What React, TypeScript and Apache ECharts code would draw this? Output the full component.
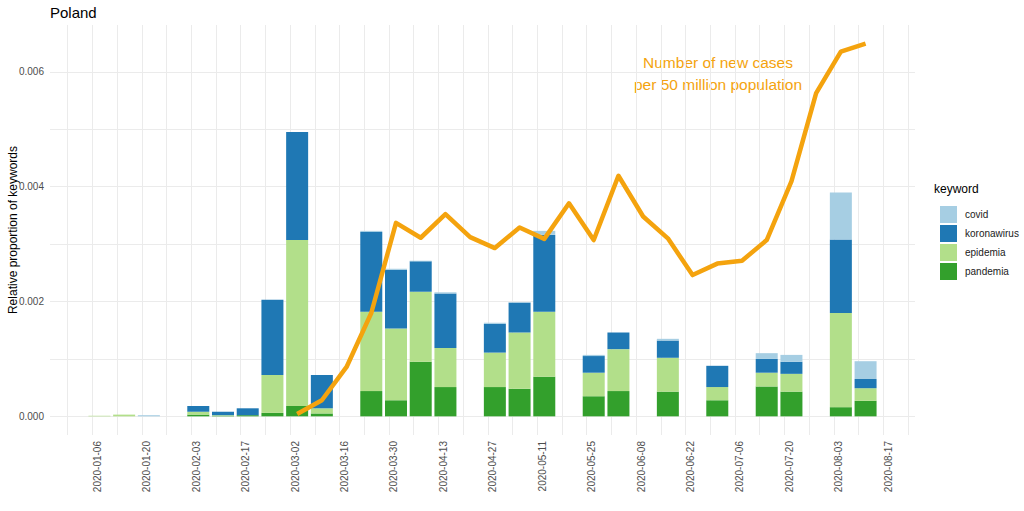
import React, { useEffect, useRef } from "react";
import * as echarts from "echarts";

// Week start dates (Mondays)
const weeks: string[] = [
  "2020-01-06", "2020-01-13", "2020-01-20", "2020-01-27", "2020-02-03", "2020-02-10",
  "2020-02-17", "2020-02-24", "2020-03-02", "2020-03-09", "2020-03-16", "2020-03-23",
  "2020-03-30", "2020-04-06", "2020-04-13", "2020-04-20", "2020-04-27", "2020-05-04",
  "2020-05-11", "2020-05-18", "2020-05-25", "2020-06-01", "2020-06-08", "2020-06-15",
  "2020-06-22", "2020-06-29", "2020-07-06", "2020-07-13", "2020-07-20", "2020-07-27",
  "2020-08-03", "2020-08-10",
];

const pandemia: number[] = [
  0, 0, 0, 0, 0.00003, 0.00001, 0.00002, 0.00006, 0.00018, 0.00005, 0, 0.00044,
  0.00028, 0.00095, 0.00051, 0, 0.00051, 0.00048, 0.00069, 0, 0.00035, 0.00044,
  0, 0.00043, 0, 0.00028, 0, 0.00052, 0.00043, 0, 0.00016, 0.00027,
];
const epidemia: number[] = [
  0.00001, 0.00003, 0, 0, 0.00005, 0.00001, 0, 0.00066, 0.00289, 0.00009, 0, 0.00138,
  0.00125, 0.00122, 0.00068, 0, 0.0006, 0.00098, 0.00113, 0, 0.00041, 0.00073,
  0, 0.00059, 0, 0.00023, 0, 0.00024, 0.00031, 0, 0.00164, 0.00022,
];
const koronawirus: number[] = [
  0, 0, 0, 0, 0.0001, 0.00006, 0.00012, 0.00131, 0.00188, 0.00058, 0, 0.00139,
  0.00102, 0.00053, 0.00095, 0, 0.0005, 0.00052, 0.00134, 0, 0.00029, 0.00029,
  0, 0.0003, 0, 0.00037, 0, 0.00024, 0.00021, 0, 0.00128, 0.00016,
];
const covid: number[] = [
  0, 0, 0.00002, 0, 0, 0, 0, 0, 0, 0, 0, 0.00002,
  0.00002, 0.00001, 0.00002, 0, 0.00002, 0.00001, 0.00007, 0, 0.00002, 0,
  0, 0.00003, 0, 0, 0, 0.0001, 0.00012, 0, 0.00082, 0.00031,
];

// New cases per 50 million population (scaled), from week 2020-03-02
const caseWeeks: string[] = weeks.slice(8);
const cases: number[] = [
  0.00004, 0.00028, 0.00086, 0.0018, 0.00337, 0.00311, 0.00352, 0.00312,
  0.00293, 0.00329, 0.00309, 0.00371, 0.00307, 0.00419, 0.00348, 0.0031,
  0.00246, 0.00266, 0.00271, 0.00307, 0.00409, 0.00563, 0.00635, 0.00649,
];

const xTickLabels: string[] = [
  "2020-01-06", "2020-01-20", "2020-02-03", "2020-02-17", "2020-03-02", "2020-03-16",
  "2020-03-30", "2020-04-13", "2020-04-27", "2020-05-11", "2020-05-25", "2020-06-08",
  "2020-06-22", "2020-07-06", "2020-07-20", "2020-08-03", "2020-08-17",
];
const yTickLabels: number[] = [0, 0.002, 0.004, 0.006];

const keywords = ["covid", "koronawirus", "epidemia", "pandemia"];
const colors: Record<string, string> = {
  covid: "#A6CEE3",
  koronawirus: "#1F78B4",
  epidemia: "#B2DF8A",
  pandemia: "#33A02C",
};

// Daily category axis spanning the visible range
const AXIS_START = "2019-12-25";
const AXIS_END = "2020-08-26";
const BAR_OFFSET_DAYS = 2; // bar centre relative to week start

const DAY = 86400000;
const ts = (s: string) => Date.parse(s + "T00:00:00Z");
const iso = (t: number) => new Date(t).toISOString().slice(0, 10);
const shift = (s: string, d: number) => iso(ts(s) + d * DAY);

const FONT = "Liberation Sans, Arial, sans-serif";
const ORANGE = "#F4A30E";

export default function App() {
  const ref = useRef<HTMLDivElement>(null);
  useEffect(() => {
    if (!ref.current) return;
    const chart = echarts.init(ref.current, null, { renderer: "svg" });

    const days: string[] = [];
    for (let t = ts(AXIS_START); t <= ts(AXIS_END); t += DAY) days.push(iso(t));
    const labelSet = new Set(xTickLabels);
    const mondaySet = new Set<string>();
    for (let t = ts("2019-12-30"); t <= ts(AXIS_END); t += 7 * DAY) mondaySet.add(iso(t));

    const xs = weeks.map((w) => shift(w, BAR_OFFSET_DAYS));
    const mk = (arr: number[]) => arr.map((v, i) => [xs[i], v]);
    const stackOrder = ["pandemia", "epidemia", "koronawirus", "covid"];
    const dataMap: Record<string, number[]> = { pandemia, epidemia, koronawirus, covid };

    chart.setOption({
      animation: false,
      textStyle: { fontFamily: FONT },
      title: {
        text: "Poland",
        left: 45,
        top: 0,
        textStyle: { fontSize: 15, fontWeight: "normal", color: "#000", fontFamily: FONT },
      },
      grid: { left: 50, right: 109, top: 25, bottom: 76, containLabel: false, outerBoundsMode: "none" },
      legend: {
        data: keywords,
        orient: "vertical",
        left: 935,
        top: 201,
        itemWidth: 17,
        itemHeight: 17,
        itemGap: 2,
        icon: "rect",
        textStyle: { fontSize: 10, color: "#1a1a1a", fontFamily: FONT, padding: [0, 0, 0, 3] },
      },
      graphic: [
        {
          type: "text",
          left: 934,
          top: 183,
          style: { text: "keyword", fontSize: 12, fill: "#000", fontFamily: FONT },
        },
        {
          type: "text",
          x: 718,
          y: 62,
          style: {
            text: "Number of new cases",
            fontSize: 15.5,
            fill: ORANGE,
            fontFamily: FONT,
            align: "center",
            verticalAlign: "middle",
          },
        },
        {
          type: "text",
          x: 718,
          y: 84,
          style: {
            text: "per 50 million population",
            fontSize: 15.5,
            fill: ORANGE,
            fontFamily: FONT,
            align: "center",
            verticalAlign: "middle",
          },
        },
      ],
      xAxis: {
        type: "category",
        data: days,
        boundaryGap: false,
        axisLine: { show: false },
        axisTick: { show: false, interval: (_i: number, v: string) => mondaySet.has(v) },
        splitLine: {
          show: true,
          interval: (_i: number, v: string) => mondaySet.has(v),
          lineStyle: { color: "#EBEBEB", width: 1 },
        },
        axisLabel: {
          interval: (_i: number, v: string) => labelSet.has(v),
          rotate: 90,
          fontSize: 10,
          color: "#4D4D4D",
          margin: 6,
          verticalAlign: "top",
          fontFamily: FONT,
        },
      },
      yAxis: {
        type: "value",
        min: -0.000325,
        max: 0.006815,
        name: "Relative proportion of keywords",
        nameLocation: "middle",
        nameGap: 31,
        nameRotate: 90,
        nameMoveOverlap: false,
        nameTextStyle: { fontSize: 12, color: "#000", fontFamily: FONT },
        axisLine: { show: false },
        axisTick: { show: false, customValues: [0, 0.001, 0.002, 0.003, 0.004, 0.005, 0.006] },
        splitLine: { show: true, lineStyle: { color: "#EBEBEB", width: 1 } },
        axisLabel: {
          customValues: yTickLabels,
          fontSize: 10,
          color: "#4D4D4D",
          margin: 6,
          fontFamily: FONT,
          formatter: (v: number) => v.toFixed(3),
        },
      },
      series: [
        ...stackOrder.map((k) => ({
          name: k,
          type: "bar",
          stack: "kw",
          barWidth: 22,
          itemStyle: { color: colors[k] },
          data: mk(dataMap[k]),
          z: 2,
        })),
        {
          name: "cases",
          type: "line",
          symbol: "none",
          lineStyle: { color: ORANGE, width: 4.5, join: "round" },
          data: cases.map((v, i) => [shift(caseWeeks[i], BAR_OFFSET_DAYS), v]),
          z: 3,
        },
      ],
    });
    return () => chart.dispose();
  }, []);
  return (
    <div
      ref={ref}
      style={{ position: "absolute", left: 0, top: 0, width: 1024, height: 511 }}
    />
  );
}
